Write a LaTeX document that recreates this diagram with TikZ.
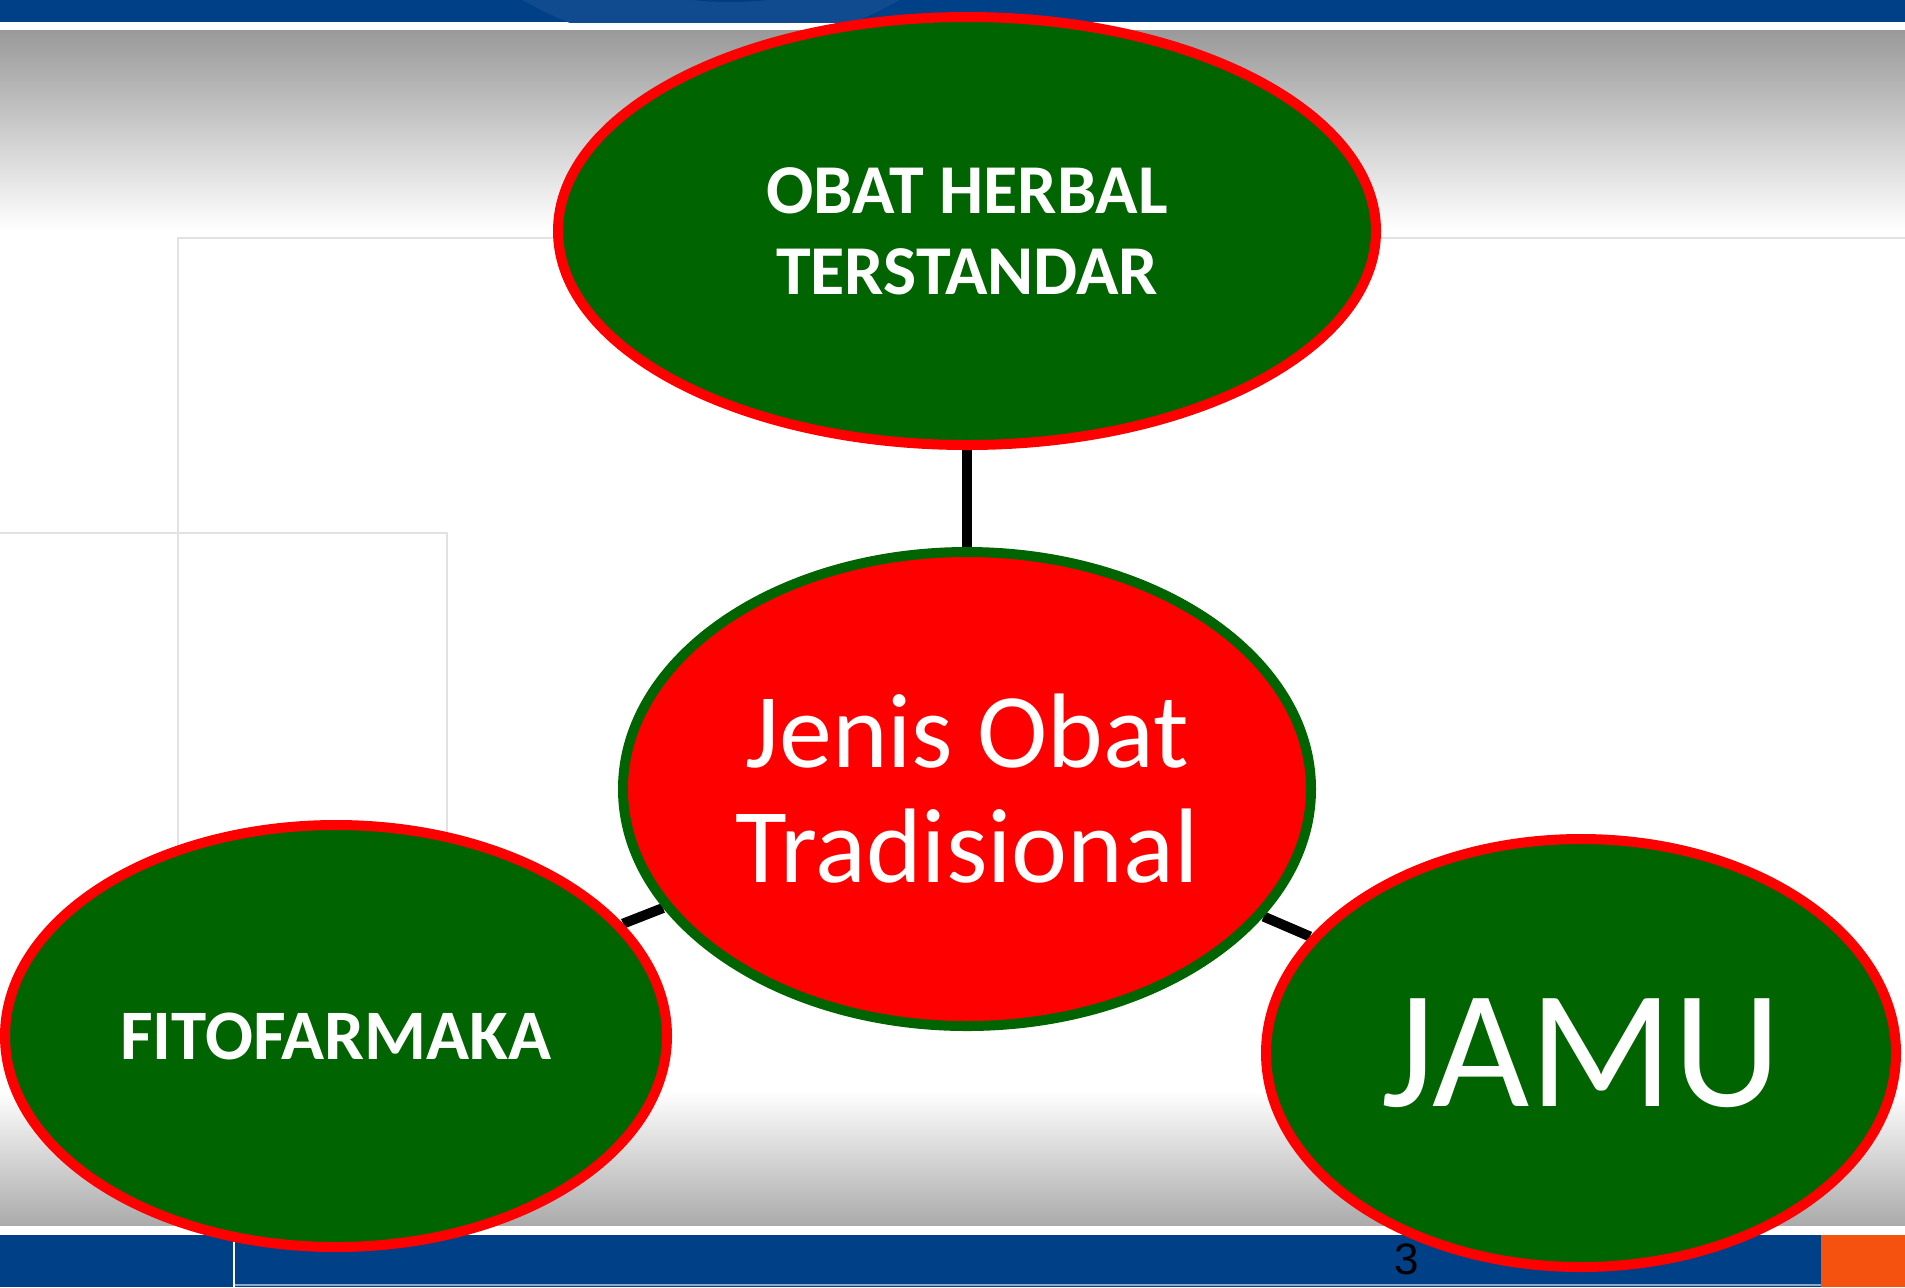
\documentclass[tikz,border=0pt]{standalone}
\usepackage{fontspec}
\setmainfont{Carlito}
\newfontfamily\pagenumfont{Liberation Sans}
\usetikzlibrary{shapes,
                positioning}
\definecolor{leafgreen}{RGB}{0,100,0}
\definecolor{slideblue}{RGB}{0,64,135}
\definecolor{slideorange}{RGB}{245,82,16}
\definecolor{gridgray}{RGB}{226,226,226}
\tikzset{herbal/.style=
   {ellipse,
    draw=red,
    fill=leafgreen,
    text=white,
    line width=5pt,
    inner sep=0pt,
    align=center}}
\tikzset{hub/.style = {herbal, draw=leafgreen, fill=red}}
\tikzset{link/.style = {draw, line width=5pt}}
\pgfdeclarelayer{slide}
\pgfdeclarelayer{links}
\pgfsetlayers{slide,links,main}

\begin{document}
\begin{tikzpicture}[x=0.5pt, y=-0.5pt]

    \useasboundingbox (0,0) rectangle (1905,1287);
    \clip (0,0) rectangle (1905,1287);

    % Place nodes
    \node [hub, minimum width=344pt, minimum height=237pt,
           font=\fontsize{53}{57.5}\selectfont] (jenis) at (967,789)
          {Jenis Obat\\Tradisional};
    \node [herbal, above of=jenis, node distance=279pt,
           minimum width=409pt, minimum height=214pt,
           font=\bfseries\fontsize{35}{40.5}\selectfont] (oht)
          {OBAT HERBAL\\TERSTANDAR};
    \node [herbal, left of=jenis, node distance=315.5pt, yshift=-123.5pt,
           minimum width=331pt, minimum height=211pt,
           font=\bfseries\fontsize{35.5}{40}\selectfont] (fito)
          {FITOFARMAKA};
    \node [herbal, right of=jenis, node distance=307pt, yshift=-132pt,
           minimum width=315pt, minimum height=214pt,
           font=\fontsize{84}{84}\selectfont] (jamu)
          {JAMU};

    % Draw edges
    \begin{pgfonlayer}{links}
    \path [link] (oht) -- (jenis);
    \path [link] (fito) -- (jenis);
    \path [link] (jenis) -- (jamu);
    \end{pgfonlayer}

    % Slide background
    \begin{pgfonlayer}{slide}
    \fill [white] (0,0) rectangle (1905,1287);
    \shade [top color=black!40, bottom color=white] (0,30) rectangle (1905,230);
    \shade [top color=white, bottom color=black!33] (0,1090) rectangle (1905,1225);
    \draw [gridgray, line width=1.2pt] (178,1225) -- (178,238) -- (1905,238);
    \draw [gridgray, line width=1.2pt] (0,533) -- (447,533) -- (447,1000);
    % top bar
    \fill [slideblue] (0,0) rectangle (1905,22);
    \begin{scope}
    \clip (0,0) rectangle (1905,22);
    \fill [slideblue!94!white] (711,-330) circle (380);
    \fill [slideblue!94!black] (730,-340) circle (342);
    \end{scope}
    % bottom bar
    \fill [slideblue] (0,1235) rectangle (1905,1287);
    \fill [slideorange] (1821,1235) rectangle (1905,1287);
    \draw [slideblue!45!white, line width=1pt] (234,1285) -- (1821,1285);
    \draw [white, line width=0.8pt] (234,1236) -- (234,1287);
    \node [font=\pagenumfont\fontsize{22}{22}\selectfont, anchor=north,
           inner sep=0pt] (pagenum) at (1407,1243) {3};
    \end{pgfonlayer}

\end{tikzpicture}
\end{document}
